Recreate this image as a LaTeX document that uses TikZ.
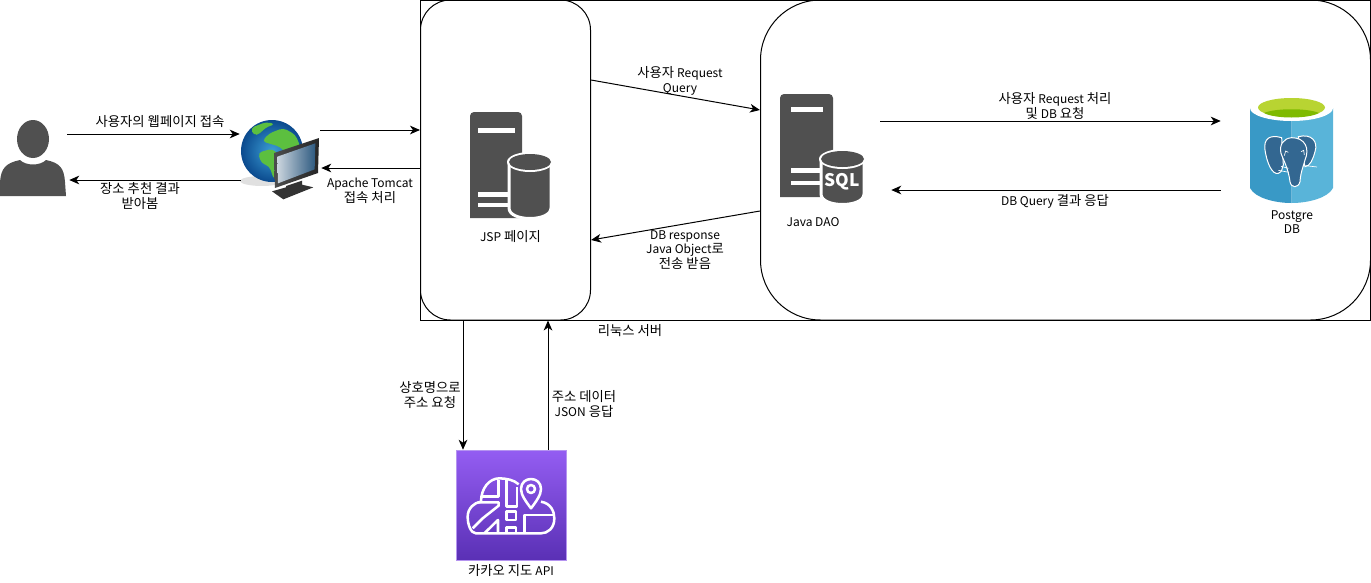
\documentclass[tikz,border=0pt]{standalone}
\usepackage{fontspec}
\setmainfont{Noto Sans CJK KR}
\usetikzlibrary{positioning}
\usetikzlibrary{arrows.meta}
\definecolor{srvgrey}{HTML}{505050}
\definecolor{pgleft}{HTML}{3999C6}
\definecolor{pgright}{HTML}{59B4D9}
\definecolor{pgblue}{HTML}{336791}
\definecolor{pglime}{HTML}{B8D432}
\definecolor{pggreen}{HTML}{7FBA00}
\definecolor{maptop}{HTML}{945DF2}
\definecolor{mapbottom}{HTML}{5A30B5}
\definecolor{mapedge}{HTML}{B594F0}
\definecolor{land}{HTML}{5CBF3F}
\definecolor{seain}{HTML}{3C9FD6}
\definecolor{seaout}{HTML}{0B4A8E}
\definecolor{glassin}{HTML}{CBD5DE}
\definecolor{glassout}{HTML}{2E5A80}
\newcommand{\en}[1]{{\fontsize{9}{10.9}\selectfont #1}}
\tikzset{
    box/.style={draw, line width=0.75pt, inner sep=0pt, minimum height=240pt},
    hold/.style={inner sep=0pt},
    txt/.style={inner sep=0pt, align=center, font=\fontsize{10}{10.9}\selectfont},
    conn/.style={line width=0.75pt, -{Stealth[length=7.5pt, width=6.5pt, inset=2.2pt]}},
    mapline/.style={draw=white, line width=1.9pt, line join=round},
}
\begin{document}
\begin{tikzpicture}[x=0.75pt, y=-0.75pt]
    \useasboundingbox (0,0) rectangle (1371,582);

    \node [box, minimum width=712.5pt] (linux) at (895.5,160) {};
    \node [box, rounded corners=22.5pt, minimum width=127.5pt] (jsp) at (505.5,160) {};
    \node [box, rounded corners=45pt, minimum width=457.5pt] (dao) at (1065.5,160) {};

    \node [hold, minimum width=50.25pt, minimum height=57pt] (user) at (33.5,158) {};
    \node [hold, minimum width=60pt, minimum height=61.5pt] (globe) at (280,159) {};
    \node [hold, minimum width=60.75pt, minimum height=79.5pt] (jspsrv) at (510.5,165) {};
    \node [hold, minimum width=75pt, minimum height=82.5pt] (daosrv) at (830,149) {};
    \node [hold, minimum width=84pt, minimum height=80.25pt] (pg) at (1277,150.5) {};
    \node [hold, minimum width=82.5pt, minimum height=82.5pt] (kakao) at (511,505) {};

    \fill [srvgrey] (33,139) ellipse [x radius=16, y radius=19];
    \fill [srvgrey] (0,196) -- (0,182) .. controls (1,168) and (6,163) .. (20,160) .. controls (26,166) and (40,166) .. (46,160) .. controls (60,163) and (64,168) .. (65,182) -- (66,196) -- cycle;

    \fill [black!12] (262,181) ellipse [x radius=22, y radius=5];
    \shade [inner color=seain, outer color=seaout] (272,151) circle [radius=31];
    \begin{scope}[shift={(230,110)}, x=0.25pt, y=-0.25pt]
        \fill [land, rounded corners=3pt] (62,54) -- (108,36) -- (136,42) -- (104,54) -- (90,72) -- (70,76) -- cycle;
        \fill [land, rounded corners=3pt] (96,94) -- (118,70) -- (160,54) -- (196,74) -- (212,112) -- (170,132) -- (150,110) -- (122,102) -- cycle;
        \fill [land, rounded corners=3pt] (84,128) -- (128,116) -- (152,142) -- (176,136) -- (156,190) -- (132,210) -- (118,168) -- (94,160) -- cycle;
        \shade [left color=black!70, right color=black!85] (132,129) -- (267,84) -- (264,189) -- (135,234) -- cycle;
        \shade [left color=glassin, right color=glassout] (142,140) -- (256,100) -- (254,178) -- (144,220) -- cycle;
        \fill [black!80] (168,228) -- (216,212) -- (216,224) -- (250,232) -- (160,268) -- (126,244) -- (168,232) -- cycle;
    \end{scope}

    \fill [srvgrey] (470,218) [rounded corners=3pt] -- (470,112) -- (522,112) [sharp corners] -- (522,218) -- cycle;
    \fill [white] (478,128) rectangle (515,133);
    \fill [white] (478,192) rectangle (508,197);
    \fill [white] (478,203) rectangle (508,207);
    \filldraw [srvgrey, draw=white, line width=2.25pt] (509,163) -- (509,208) .. controls (509,222) and (551,222) .. (551,208) -- (551,163) -- cycle;
    \fill [white] (530,162) ellipse [x radius=23, y radius=10];
    \fill [srvgrey] (530,162) ellipse [x radius=21, y radius=8];

    \fill [srvgrey] (780,197) [rounded corners=3pt] -- (780,94) -- (833,94) [sharp corners] -- (833,197) -- cycle;
    \fill [white] (791,107) rectangle (823,112);
    \fill [white] (791,168) rectangle (822,173);
    \fill [white] (791,181) rectangle (822,185);
    \filldraw [srvgrey, draw=white, line width=2.25pt] (821,160) -- (821,194) .. controls (821,208) and (864,208) .. (864,194) -- (864,160) -- cycle;
    \fill [white] (842.5,159) ellipse [x radius=23.5, y radius=10];
    \fill [srvgrey] (842.5,159) ellipse [x radius=21.5, y radius=8];
    \node [inner sep=0pt, text=white, font=\fontsize{13}{13}\bfseries\selectfont] (sqlmark) at (842,182) {SQL};

    \fill [pgleft] (1250,108) -- (1250,188) .. controls (1255,198) and (1275,203) .. (1291.5,203) -- (1291.5,108) -- cycle;
    \fill [pgright] (1333,108) -- (1333,188) .. controls (1328,198) and (1308,203) .. (1291.5,203) -- (1291.5,108) -- cycle;
    \fill [white] (1291.5,108) ellipse [x radius=41.5, y radius=13];
    \fill [pglime] (1291.5,107.5) ellipse [x radius=33.5, y radius=9.5];
    \fill [pggreen] (1264,113) .. controls (1275,108) and (1308,108) .. (1319,113) .. controls (1308,119) and (1275,119) .. (1264,113) -- cycle;
    \begin{scope}[shift={(1255,125)}, x=0.25pt, y=-0.25pt]
        \filldraw [pgblue, draw=white, line width=0.75pt] (80,38) .. controls (45,28) and (25,40) .. (30,75) .. controls (35,110) and (50,150) .. (70,145) .. controls (85,140) and (80,125) .. (85,120) -- cycle;
        \filldraw [pgblue, draw=white, line width=0.75pt] (130,35) .. controls (170,25) and (190,50) .. (180,80) .. controls (175,100) and (165,125) .. (150,125) -- cycle;
        \filldraw [pgblue, draw=white, line width=0.75pt] (110,38) .. controls (85,40) and (72,60) .. (78,85) .. controls (85,105) and (100,130) .. (105,170) .. controls (108,190) and (130,190) .. (135,170) .. controls (137,140) and (145,125) .. (150,105) .. controls (165,70) and (150,38) .. (110,38) -- cycle;
        \draw [white, line width=0.5pt] (70,136) -- (102,142) (78,124) -- (100,130) (152,122) -- (186,126) (88,92) -- (92,78) -- (100,82) (148,90) -- (146,76) -- (138,80);
    \end{scope}

    \shade [top color=maptop, bottom color=mapbottom] (456,450) rectangle (566,560);
    \draw [mapedge, line width=0.5pt] (456,450) rectangle (566,560);
    \begin{scope}[shift={(456,465)}, x=0.25pt, y=-0.25pt]
        \draw [mapline] (255,110) .. controls (285,115) and (295,140) .. (295,160) .. controls (295,190) and (275,205) .. (255,205) -- (60,205) .. controls (45,205) and (35,180) .. (35,155) .. controls (35,130) and (55,112) .. (75,110) .. controls (75,70) and (100,40) .. (130,40) .. controls (150,40) and (175,45) .. (188,58);
        \draw [mapline] (225,130) .. controls (210,110) and (195,90) .. (195,72) .. controls (195,52) and (210,42) .. (225,42) .. controls (240,42) and (255,52) .. (255,72) .. controls (255,90) and (240,110) .. (225,130) -- cycle;
        \draw [mapline] (225,72) circle [radius=12];
        \draw [mapline] (75,95) -- (128,95) -- (128,45);
        \draw [mapline] (50,190) -- (80,160) -- (128,122) -- (128,112) -- (65,112);
        \draw [mapline] (85,205) -- (126,165) -- (126,205);
        \draw [mapline] (152,45) -- (152,125) -- (183,125) -- (183,65);
        \draw [mapline] (152,140) rectangle (180,165);
        \draw [mapline] (152,205) -- (152,187) -- (180,187) -- (180,205);
        \draw [mapline] (205,205) -- (205,150) -- (294,150);
    \end{scope}

    \draw [conn] ([yshift=18pt]user.east) -- ([yshift=18.75pt]globe.west);
    \draw [conn] ([xshift=0.75pt, yshift=-15.75pt]globe.west) -- ([xshift=1.5pt, yshift=-16.5pt]user.east);
    \draw [conn] ([yshift=21.75pt]globe.east) -- ([yshift=22.5pt]linux.west);
    \draw [conn] ([yshift=-6pt]linux.west) -- ([xshift=0.75pt, yshift=-6.75pt]globe.east);
    \draw [conn] ([yshift=60pt]jsp.east) -- ([yshift=37.5pt]dao.west);
    \draw [conn] ([yshift=-38.25pt]dao.west) -- ([yshift=-60pt]jsp.east);
    \draw [conn] ([yshift=21pt]daosrv.east) -- ([yshift=22.125pt]pg.west);
    \draw [conn] ([yshift=-29.625pt]pg.west) -- ([xshift=8.25pt, yshift=-30.75pt]daosrv.east);
    \draw [conn] ([xshift=-31.875pt]jsp.south) -- ([xshift=-36pt]kakao.north);
    \draw [conn] ([xshift=27.75pt]kakao.north) -- ([xshift=31.875pt]jsp.south);

    \node [txt] (l1) at (160,122) {사용자의 웹페이지 접속};
    \node [txt] (l2) at (140,196) {장소 추천 결과\\받아봄};
    \node [txt] (l3) at (370,191) {\en{Apache Tomcat}\\접속 처리};
    \node [txt] (l4) at (680,81) {사용자 \en{Request}\\\en{Query}};
    \node [txt] (l5) at (685,250) {\en{DB response}\\\en{Java Object}로\\전송 받음};
    \node [txt] (l6) at (1055,106) {사용자 \en{Request} 처리\\및 \en{DB} 요청};
    \node [txt] (l7) at (1055,201) {\en{DB Query} 결과 응답};
    \node [txt] (l8) at (430,395) {상호명으로\\주소 요청};
    \node [txt] (l9) at (584,404) {주소 데이터\\\en{JSON} 응답};
    \node [txt] (l10) at (630,331) {리눅스 서버};
    \node [txt, below=9pt of jspsrv] (jsplabel) {\en{JSP} 페이지};
    \node [txt] (daolabel) at (813,222) {\en{Java DAO}};
    \node [txt] (pglabel) at (1292,222) {\en{Postgre}\\\en{DB}};
    \node [txt, below=3pt of kakao] (kakaolabel) {카카오 지도 \en{API}};
\end{tikzpicture}
\end{document}
